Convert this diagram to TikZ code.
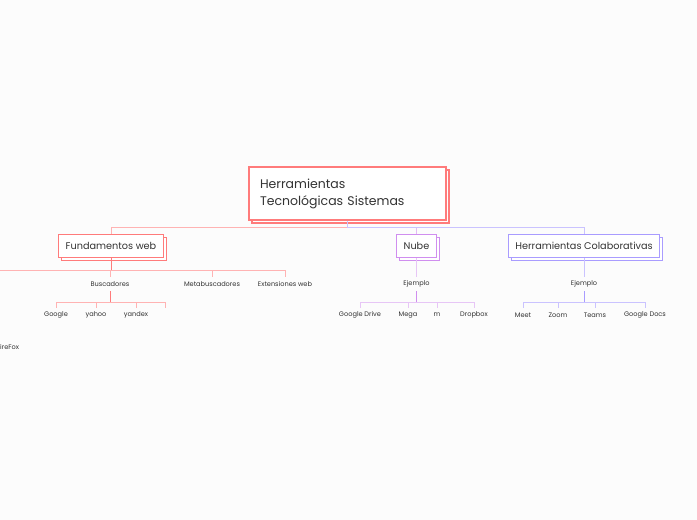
\documentclass[tikz,border=0pt]{standalone}
\usepackage{fontspec}
\setmainfont{Poppins}
\usetikzlibrary{shadows}
\definecolor{rootred}{HTML}{FF7B7B}
\definecolor{redline}{HTML}{FFB3B3}
\definecolor{nubepurple}{HTML}{D08EEF}
\definecolor{nubeline}{HTML}{E7C6F6}
\definecolor{colabblue}{HTML}{A99CFF}
\definecolor{colabline}{HTML}{CAC3FF}
\definecolor{ink}{HTML}{333333}
\definecolor{paper}{HTML}{FCFCFC}

\tikzset{
  every topic/.style={draw, line width=1pt, fill=white, text=ink,
    inner xsep=7pt, inner ysep=0pt, minimum height=23pt,
    font=\fontsize{9.7}{11}\selectfont},
  topic red/.style={every topic, draw=rootred,
    copy shadow={shadow xshift=3pt, shadow yshift=-3pt, draw=rootred, fill=white}},
  topic nube/.style={every topic, draw=nubepurple,
    copy shadow={shadow xshift=3pt, shadow yshift=-3pt, draw=nubepurple, fill=white}},
  topic colab/.style={every topic, draw=colabblue,
    copy shadow={shadow xshift=3pt, shadow yshift=-3pt, draw=colabblue, fill=white}},
  leaf/.style={inner sep=0pt, minimum height=14pt, text=ink,
    font=\fontsize{6.6}{7}\selectfont},
}

\begin{document}
\begin{tikzpicture}[x=1pt, y=-1pt]
\useasboundingbox[fill=paper] (0,0) rectangle (697,520);
\clip (0,0) rectangle (697,520);

% central topic
\node [draw=rootred, line width=1.2pt, fill=white, text=ink, align=left,
  minimum width=197pt, minimum height=53pt, inner xsep=11pt,
  text width=175pt, font=\fontsize{12.5}{17}\selectfont,
  copy shadow={shadow xshift=3pt, shadow yshift=-3pt, draw=rootred, fill=white}]
  (root) at (347.5,193.5) {Herramientas\\Tecnológicas Sistemas};

% main topics
\node [topic red] (fund) at (111,246) {Fundamentos web};
\node [topic nube] (nube) at (416.5,246) {Nube};
\node [topic colab] (colab) at (584,246) {Herramientas Colaborativas};

\draw [redline, line width=1pt] (root.south) -- ++(0,7) -| (fund.north);
\draw [nubepurple!60, line width=1pt] (root.south) -- ++(0,7) -| (nube.north);
\draw [colabline, line width=1pt] (root.south) -- ++(0,7) -| (colab.north);

% Fundamentos web
\coordinate (fund-0) at (-30,277);
\foreach \l/\x [count=\i] in {Buscadores/110, Metabuscadores/212, Extensiones web/285}
  \node [leaf] (fund-\i) at (\x,284) {\l};
\foreach \i in {0,...,3}
  \draw [redline, line width=1pt] (fund.south) -- ++(0,12) -| (fund-\i.north);
\draw [rootred, line width=1pt] (fund.south) -- ++(0,12);

\foreach \l/\x [count=\i] in {Google/56, yahoo/96, yandex/136, /165}
  \node [leaf] (busc-\i) at (\x,315) {\l};
\foreach \i in {1,...,4}
  \draw [redline, line width=1pt] (fund-1.south) -- ++(0,11) -| (busc-\i.north);
\draw [rootred, line width=1pt] (fund-1.south) -- ++(0,11);

\node [leaf] (firefox) at (8,347) {FireFox};

% Nube
\node [leaf] (nube-ej) at (416.5,284) {Ejemplo};
\draw [nubeline, line width=1pt] (nube.south) -- (nube-ej.north);
\foreach \l/\x [count=\i] in {Google Drive/360, Mega/408, m/437, Dropbox/474}
  \node [leaf] (nube-\i) at (\x,315) {\l};
\foreach \i in {1,...,4}
  \draw [nubeline, line width=1pt] (nube-ej.south) -- ++(0,11) -| (nube-\i.north);
\draw [nubepurple, line width=1pt] (nube-ej.south) -- ++(0,11);

% Herramientas Colaborativas
\node [leaf] (colab-ej) at (584,284) {Ejemplo};
\draw [colabline, line width=1pt] (colab.south) -- (colab-ej.north);
\foreach \l/\x [count=\i] in {Meet/523, Zoom/558, Teams/595, Google Docs/645}
  \node [leaf] (colab-\i) at (\x,315) {\l};
\foreach \i in {1,...,4}
  \draw [colabline, line width=1pt] (colab-ej.south) -- ++(0,11) -| (colab-\i.north);
\draw [colabblue, line width=1pt] (colab-ej.south) -- ++(0,11);

\end{tikzpicture}
\end{document}
